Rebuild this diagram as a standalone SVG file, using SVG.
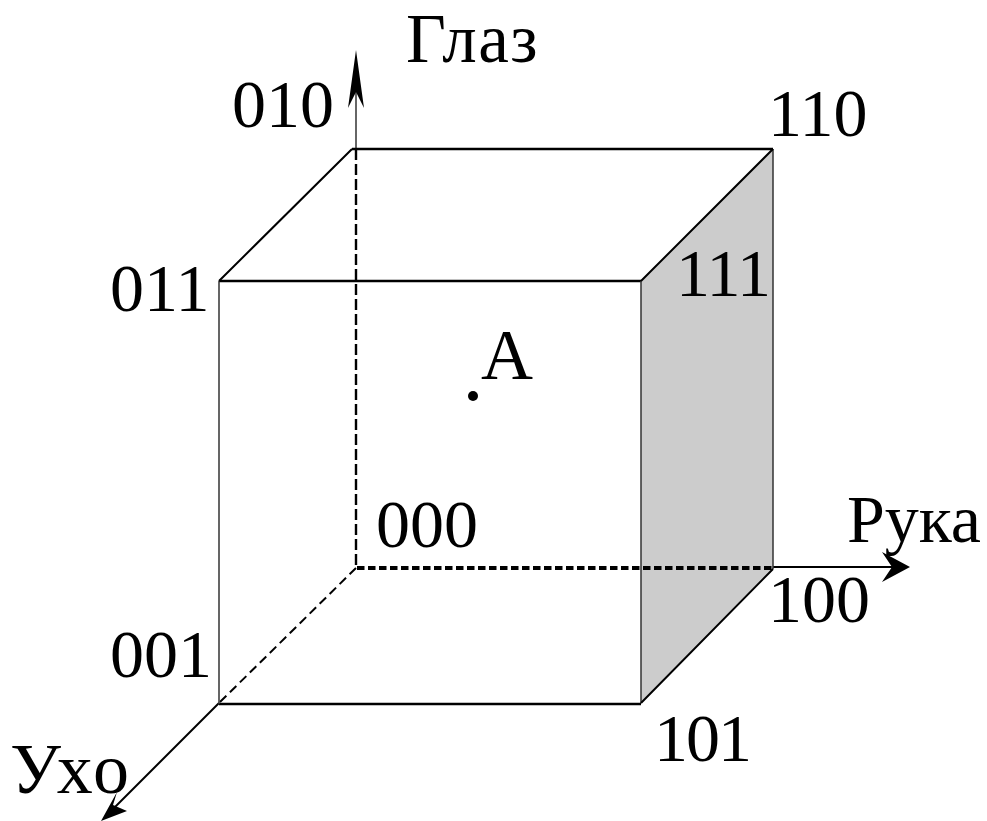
<svg xmlns="http://www.w3.org/2000/svg" width="987" height="821" viewBox="0 0 987 821">
<style>
text{font-family:"Liberation Serif","Times New Roman",serif;font-size:68px;fill:#000}
.h1{stroke:#000;stroke-width:2.6;fill:none}
.v1{stroke:#333;stroke-width:1.5;fill:none}
.dg{stroke:#000;stroke-width:2;fill:none}
.h{fill:#000;stroke:none}
</style>
<rect width="987" height="821" fill="#fff"/>
<g id="shade"><polygon points="641,281 773,149 773,569 641,703" fill="#cccccc"/></g>
<g id="connectors">
<path d="M356 149V568" fill="none" stroke="#000" stroke-width="2.4" stroke-dasharray="11 4"/>
<path d="M357 568H773" fill="none" stroke="#000" stroke-width="4" stroke-dasharray="7.5 3.5"/>
<path d="M356 568L219 703" fill="none" stroke="#000" stroke-width="2" stroke-dasharray="9 5"/>
<path d="M356 149V90" class="v1" stroke="#555"/>
<path class="h" d="M356 50L364 108L356 92L348 108Z"/>
<path class="dg" d="M773 567H892"/>
<path class="h" d="M910 567L882 552L892 567L882 582Z"/>
<path class="dg" d="M219 703L115 807"/>
<path class="h" d="M101 821L117 792L113 805L127 811Z"/>
</g>
<g id="cube">
<path class="h1" d="M219 281H641M352 149H773M219 704H641"/>
<path class="v1" d="M219 281V704M641 281V703M773 149V569"/>
<path class="dg" d="M219 281L352 149M641 281L773 149M773 569L641 703"/>
</g>
<g id="point-a"><circle cx="473" cy="396" r="5"/><text x="481" y="379" style="font-size:72px">А</text></g>
<g id="label-eye"><text x="406" y="62" style="font-size:69px;letter-spacing:1.5px">Глаз</text></g>
<g id="label-010"><text x="232" y="127">010</text></g>
<g id="label-110"><text x="768" y="136">110</text></g>
<g id="label-011"><text x="110" y="311">011</text></g>
<g id="label-111"><text x="676" y="296" style="letter-spacing:-1px">111</text></g>
<g id="label-000"><text x="376" y="547">000</text></g>
<g id="label-hand"><text x="847" y="542">Рука</text></g>
<g id="label-100"><text x="768" y="622">100</text></g>
<g id="label-001"><text x="110" y="677">001</text></g>
<g id="label-101"><text x="654" y="761" style="letter-spacing:-2px">101</text></g>
<g id="label-ear"><text x="10" y="793" style="font-size:72px;letter-spacing:3px">Ухо</text></g>
</svg>
